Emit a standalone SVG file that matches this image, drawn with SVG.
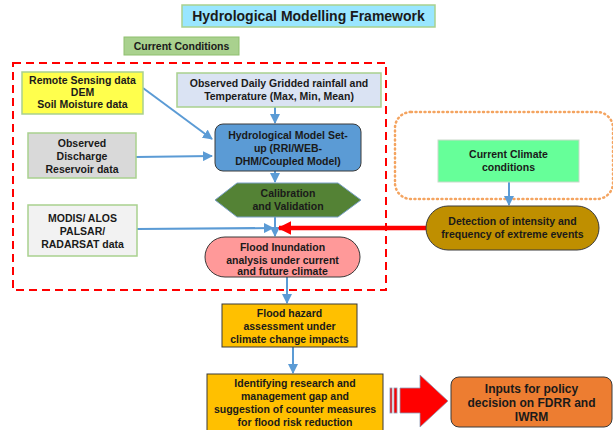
<svg xmlns="http://www.w3.org/2000/svg" width="613" height="430" viewBox="0 0 613 430">
<defs>
<style>
text{font-family:"Liberation Sans",Arial,sans-serif;font-weight:bold;font-size:10.5px;fill:#1a1a1a;text-anchor:middle}
.lg{stroke:#a9d18e;stroke-width:1.5}
.dk{stroke:#3a3a3a;stroke-width:1}
.conn{stroke:#5b9bd5;stroke-width:2;fill:none}
</style>
<marker id="ah" viewBox="0 0 10 10" refX="9" refY="5" markerWidth="5" markerHeight="5" orient="auto-start-reverse"><path d="M0,0 L10,5 L0,10 z" fill="#5b9bd5"/></marker>
<marker id="rh" viewBox="0 0 10 10" refX="9" refY="5" markerWidth="3" markerHeight="3" orient="auto-start-reverse"><path d="M0,0 L10,5 L0,10 z" fill="#ff0000"/></marker>
</defs>
<rect width="613" height="430" fill="#ffffff"/>

<g id="title"><rect x="182" y="5" width="253" height="22" fill="#99e6ff" class="lg"/><text x="308.5" y="21" style="font-size:14px">Hydrological Modelling Framework</text></g>
<g id="current-conditions"><rect x="124" y="37" width="115" height="18" fill="#a9d18e" stroke="#8fbf6f"/><text x="181.5" y="50">Current Conditions</text></g>

<g id="frame-current"><rect x="13" y="63" width="373" height="227" fill="none" stroke="#ff0000" stroke-width="2" stroke-dasharray="8,5"/></g>
<g id="frame-climate"><rect x="395" y="112" width="218" height="87" rx="16" fill="none" stroke="#f4a460" stroke-width="2.5" stroke-dasharray="1,3.5" stroke-linecap="round"/></g>

<g id="connectors">
<path class="conn" d="M143,88 L212,139" marker-end="url(#ah)"/>
<path class="conn" d="M275,107 L275,123" marker-end="url(#ah)"/>
<path class="conn" d="M136,157 L212,156" marker-end="url(#ah)"/>
<path class="conn" d="M275,171 L275,182" marker-end="url(#ah)"/>
<path class="conn" d="M275,217 L275,236" marker-end="url(#ah)"/>
<path class="conn" d="M137,229 L273,228" marker-end="url(#ah)"/>
<path class="conn" d="M287,277 L287,303" marker-end="url(#ah)"/>
<path class="conn" d="M293,347 L293,373" marker-end="url(#ah)"/>
<path class="conn" d="M509,182 L509,205" marker-end="url(#ah)"/>
<path d="M426,228 L279,228" stroke="#ff0000" stroke-width="4.5" fill="none" marker-end="url(#rh)"/>
<g id="big-arrow" fill="#ff0000" stroke="#8e9ab5" stroke-width="0.8">
<rect x="390" y="388" width="2" height="25"/>
<rect x="394" y="388" width="3" height="25"/>
<path d="M400,388 L420,388 L420,375 L448,401 L420,427 L420,413 L400,413 z"/>
</g>
</g>

<g id="remote-sensing"><rect x="22" y="72" width="121" height="42" fill="#ffff4d" class="lg"/><text x="82.5" y="84">Remote Sensing data</text><text x="82.5" y="96">DEM</text><text x="82.5" y="108">Soil Moisture data</text></g>
<g id="observed-daily"><rect x="177" y="73" width="204" height="34" fill="#dae3f3" class="lg"/><text x="279" y="87">Observed Daily Gridded rainfall and</text><text x="279" y="100">Temperature (Max, Min, Mean)</text></g>
<g id="observed-discharge"><rect x="28" y="133" width="108" height="45" fill="#d9d9d9" class="lg"/><text x="82" y="147">Observed</text><text x="82" y="160">Discharge</text><text x="82" y="173">Reservoir data</text></g>
<g id="hydro-model"><rect x="215" y="124" width="146" height="47" rx="8" fill="#5b9bd5" class="dk"/><text x="288" y="139">Hydrological Model Set-</text><text x="288" y="152">up (RRI/WEB-</text><text x="288" y="165">DHM/Coupled Model)</text></g>
<g id="calibration"><polygon points="215,200 237,183 338,183 361,200 338,217 237,217" fill="#548235" stroke="#7aa0c8" stroke-width="1"/><text x="288" y="197">Calibration</text><text x="288" y="210">and Validation</text></g>
<g id="modis"><rect x="28" y="205" width="109" height="51" fill="#f2f2f2" class="lg"/><text x="82.5" y="222">MODIS/ ALOS</text><text x="82.5" y="235">PALSAR/</text><text x="82.5" y="248">RADARSAT data</text></g>
<g id="flood-inundation"><rect x="205" y="237" width="155" height="40" rx="20" fill="#ff9999" class="dk"/><text x="282.5" y="251">Flood Inundation</text><text x="282.5" y="264">analysis under current</text><text x="282.5" y="276" dy="-1">and future climate</text></g>
<g id="current-climate"><rect x="438" y="140" width="141" height="42" fill="#66ff99" stroke="#c9d9c9" stroke-width="1"/><text x="508.5" y="158">Current Climate</text><text x="508.5" y="171">conditions</text></g>
<g id="detection"><rect x="426" y="206" width="173" height="44" rx="22" fill="#bf8f00" class="dk"/><text x="512.5" y="225">Detection of intensity and</text><text x="512.5" y="238">frequency of extreme events</text></g>
<g id="flood-hazard"><rect x="222" y="304" width="135" height="43" fill="#ffc000" class="dk"/><text x="289.5" y="317">Flood hazard</text><text x="289.5" y="330">assessment under</text><text x="289.5" y="343">climate change impacts</text></g>
<g id="identifying"><rect x="207" y="374" width="176" height="58" fill="#ffc000" class="dk"/><text x="295" y="387">Identifying research and</text><text x="295" y="400">management gap and</text><text x="295" y="413">suggestion of counter measures</text><text x="295" y="426">for flood risk reduction</text></g>
<g id="inputs"><rect x="451" y="377" width="161" height="50" rx="8" fill="#ed7d31" class="dk"/><text x="531.5" y="393" style="font-size:12px">Inputs for policy</text><text x="531.5" y="407" style="font-size:12px">decision on FDRR and</text><text x="531.5" y="421" style="font-size:12px">IWRM</text></g>
</svg>
